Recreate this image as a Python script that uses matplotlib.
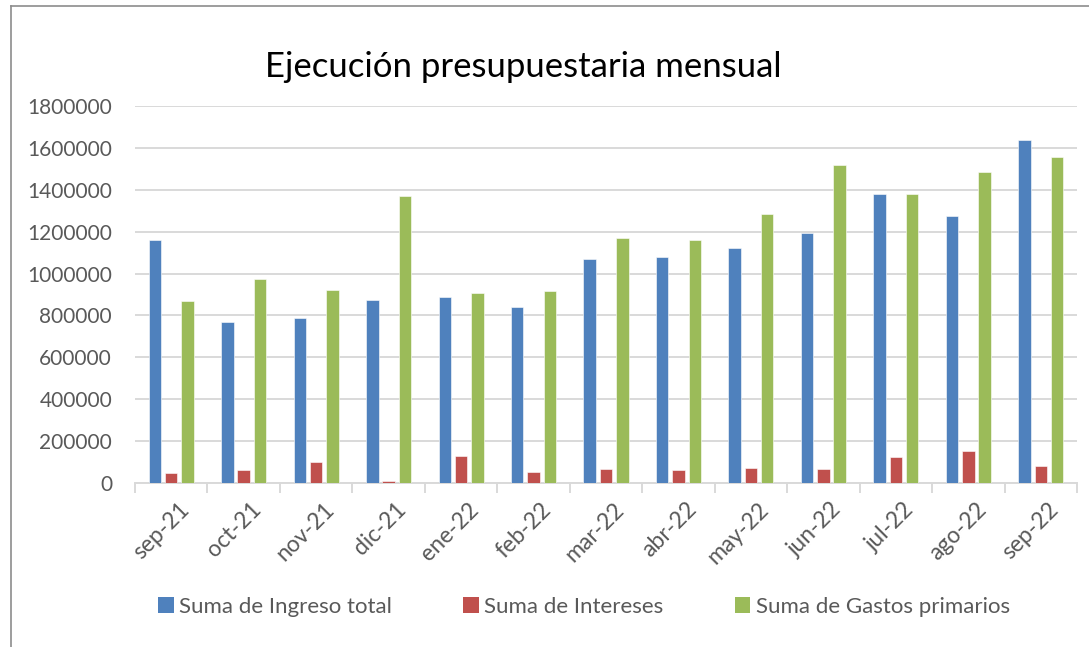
import matplotlib
matplotlib.use("Agg")
import matplotlib.pyplot as plt
import numpy as np
from matplotlib.patches import Patch
from matplotlib.lines import Line2D
from matplotlib.transforms import ScaledTranslation

months = ["sep-21", "oct-21", "nov-21", "dic-21", "ene-22", "feb-22", "mar-22",
          "abr-22", "may-22", "jun-22", "jul-22", "ago-22", "sep-22"]
ingreso_total = [1162000, 767000, 787000, 874000, 890000, 842000, 1070000,
                 1079000, 1122000, 1195000, 1378000, 1272000, 1637000]
intereses = [49000, 63000, 103000, 11000, 128000, 55000, 68000,
             63000, 74000, 69000, 125000, 155000, 81000]
gastos_primarios = [868000, 975000, 922000, 1368000, 907000, 917000, 1168000,
                    1160000, 1284000, 1516000, 1380000, 1482000, 1555000]
series_names = ["Suma de Ingreso total", "Suma de Intereses", "Suma de Gastos primarios"]
colors = ["#4F81BD", "#C0504D", "#9BBB59"]
yticks = list(range(0, 1800001, 200000))

plt.rcParams['font.family'] = ['Lato', 'DejaVu Sans']
txt = "#595959"

W, H = 1089, 647
fig = plt.figure(figsize=(W / 100, H / 100), dpi=100)
ax = fig.add_axes([135 / W, 1 - 483.3 / H, (1077 - 135) / W, (483.3 - 105.7) / H])

x = np.arange(len(months))
bw = 0.172
off = 0.225
for i, (vals, c, name) in enumerate(zip([ingreso_total, intereses, gastos_primarios], colors, series_names)):
    ax.bar(x + (i - 1) * off, vals, width=bw, color=c, edgecolor="white", linewidth=0.4,
           label=name, zorder=3)

ax.set_xlim(-0.5, len(months) - 0.5)
ax.set_ylim(0, 1800000)
ax.set_yticks(yticks)
ax.set_yticklabels([str(v) for v in yticks], fontsize=15, color=txt)
ax.yaxis.grid(True, color="#D9D9D9", linewidth=1.4, zorder=0)
ax.tick_params(axis='y', length=0, pad=16.5)

ax.set_xticks(x)
ax.set_xticklabels(months, rotation=45, ha='right', rotation_mode='anchor', fontsize=16.5, color=txt)
ax.tick_params(axis='x', length=0, pad=11)
for lab in ax.get_xticklabels():
    lab.set_transform(lab.get_transform() + ScaledTranslation(7 / 100, 0, fig.dpi_scale_trans))
ax.set_xticks(np.arange(-0.5, len(months)), minor=True)
ax.tick_params(axis='x', which='minor', length=7, color="#D9D9D9", width=1.4)

for s in ["top", "right", "left"]:
    ax.spines[s].set_visible(False)
ax.spines["bottom"].set_color("#D9D9D9")
ax.spines["bottom"].set_linewidth(1.4)

fig.text(523.5 / W, 1 - 67 / H, "Ejecución presupuestaria mensual", ha='center', va='center',
         fontsize=25, color="black")

handles = [Patch(facecolor=c, edgecolor='none') for c in colors]
leg = fig.legend(handles, series_names, loc='center', bbox_to_anchor=(584 / W, 1 - 607 / H),
                 ncol=3, frameon=False, fontsize=16, labelcolor=txt, handlelength=0.7,
                 handleheight=0.7, handletextpad=0.25, columnspacing=3.2)

# outer frame (left and top edges visible)
fig.add_artist(Line2D([11 / W, 11 / W], [0, 1 - 6 / H], color="#8C8C8C", linewidth=1.2,
                      transform=fig.transFigure))
fig.add_artist(Line2D([11 / W, 1], [1 - 6 / H, 1 - 6 / H], color="#8C8C8C", linewidth=1.2,
                      transform=fig.transFigure))

fig.savefig("out.png", dpi=100)
